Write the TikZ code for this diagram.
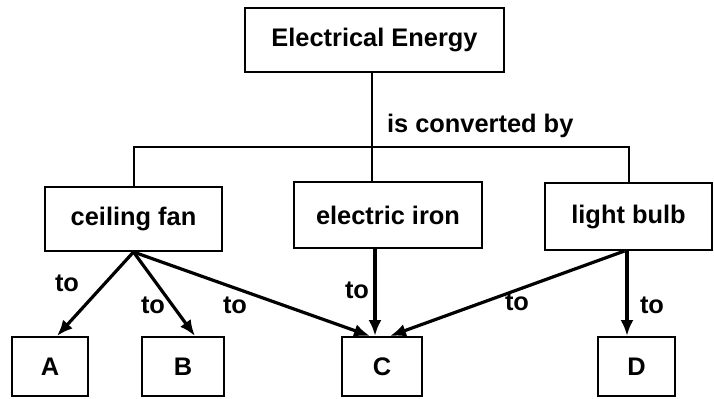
\documentclass[tikz,border=0pt]{standalone}
\usepackage{fontspec}
\setmainfont{Liberation Sans}
\usetikzlibrary{positioning,arrows.meta}

\begin{document}
\begin{tikzpicture}[x=0.5pt,y=-0.5pt,>={Latex[length=8pt,width=6.5pt]},
    box/.style={draw,line width=1pt,inner sep=0pt,font=\fontsize{12.7}{15}\selectfont\bfseries},
    link/.style={->,line width=1.6pt},
    lbl/.style={font=\fontsize{12.7}{15}\selectfont\bfseries}]
        \useasboundingbox (0,0) rectangle (714,398);
        \node[box,minimum width=129.5pt,minimum height=32pt] (energy) at (374.5,40) {Electrical Energy};
        \node[box,minimum width=88.5pt,minimum height=32pt] (fan) at (133.5,219) {ceiling fan};
        \node[box,minimum width=94pt,minimum height=33pt] (iron) at (388,215) {electric iron};
        \node[box,minimum width=83.5pt,minimum height=33.5pt] (bulb) at (628.5,216.5) {light bulb};
        \node[box,minimum width=38pt,minimum height=29.5pt] (a) at (50,366.5) {A};
        \node[box,minimum width=41pt,minimum height=29.5pt] (b) at (183,366.5) {B};
        \node[box,minimum width=40pt,minimum height=29.5pt] (c) at (382,366.5) {C};
        \node[box,minimum width=38.5pt,minimum height=29.5pt] (d) at (636.5,366.5) {D};
        \coordinate (split) at (372,147);
        \node[lbl,anchor=west] (conv) at (380,126) {is converted by};
        \draw[line width=1pt] (energy.south -| split) -- (split);
        \draw[line width=1pt] (fan.north) |- (split) -| (bulb.north);
        \draw[line width=1pt] (split) -- (iron.north -| split);
        \draw[link] (fan.south) -- ([xshift=3.5pt]a.north);
        \draw[link] (fan.south) -- ([xshift=6pt]b.north);
        \draw[link] (fan.south) -- ([xshift=-6pt]c.north);
        \draw[link] (iron.south -| 375,0) -- (c.north -| 375,0);
        \draw[link] ([xshift=-2pt]bulb.south) -- ([xshift=4pt]c.north);
        \draw[link] (bulb.south -| 627,0) -- (d.north -| 627,0);
        \node[lbl] (to1) at (67,283) {to};
        \node[lbl] (to2) at (153,305) {to};
        \node[lbl] (to3) at (235,305) {to};
        \node[lbl] (to4) at (357,290) {to};
        \node[lbl] (to5) at (517,302) {to};
        \node[lbl] (to6) at (652,305) {to};
    \end{tikzpicture}
\end{document}
